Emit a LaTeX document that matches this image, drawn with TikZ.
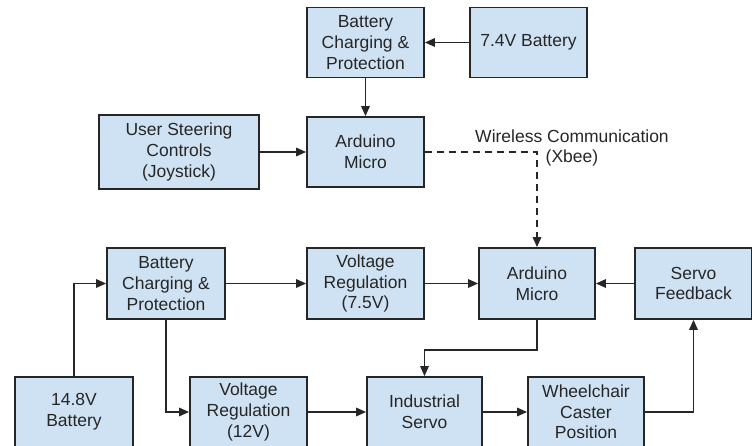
\documentclass[tikz,border=0pt]{standalone}
\usepackage{fontspec}
\setmainfont{Liberation Sans}
\usetikzlibrary{arrows.meta}

\definecolor{boxblue}{HTML}{CFE2F3}
\definecolor{edgegray}{HTML}{262626}

\tikzset{
  block/.style={draw=edgegray, fill=boxblue, line width=1.8pt, align=center,
    minimum width=117pt, minimum height=70pt, inner sep=2pt,
    font=\fontsize{17.5pt}{20.7pt}\selectfont, text=edgegray},
  link/.style={draw=edgegray, line width=1.6pt, -{Triangle[length=10pt,width=8.5pt]}},
}

\begin{document}
\begin{tikzpicture}[x=1pt,y=-1pt]
    \useasboundingbox (0,0) rectangle (752,446);
    \clip (0,0) rectangle (752,446);
    % remote side
    \node[block] (chgA) at (365.5,42.5) {Battery\\Charging \&\\Protection};
    \node[block] (batA) at (528.5,42.5) {7.4V Battery};
    \node[block, minimum width=160pt, minimum height=74pt] (user) at (179,152) {User Steering\\Controls\\(Joystick)};
    \node[block] (ardA) at (365.5,152) {Arduino\\Micro};
    % chair side
    \node[block, minimum width=118pt, minimum height=71pt] (chgB) at (166,283.5) {Battery\\Charging \&\\Protection};
    \node[block, minimum height=71pt] (regA) at (365.5,283.5) {Voltage\\Regulation\\(7.5V)};
    \node[block, minimum width=116pt, minimum height=71pt] (ardB) at (537,283.5) {Arduino\\Micro};
    \node[block, minimum height=71pt] (fback) at (693.5,283.5) {Servo\\Feedback};
    \node[block, minimum width=118pt] (batB) at (74,412) {14.8V\\Battery};
    \node[block] (regB) at (248.5,412) {Voltage\\Regulation\\(12V)};
    \node[block, minimum width=115pt] (servo) at (424.5,412) {Industrial\\Servo};
    \node[block, minimum width=116pt] (caster) at (586,412) {Wheelchair\\Caster\\Position};
    \node[align=center, text=edgegray, font=\fontsize{17.5pt}{20.7pt}\selectfont] (xbee) at (572,148) {Wireless Communication\\(Xbee)};

    \draw[link] (batA) -- (chgA);
    \draw[link] (chgA) -- (ardA);
    \draw[link] (user) -- (ardA);
    \draw[link, dashed, dash pattern=on 7pt off 5pt] (ardA.east) -| (ardB.north);
    \draw[link] (batB.north) |- (chgB.west);
    \draw[link] (chgB.south) |- (regB.west);
    \draw[link] (chgB) -- (regA);
    \draw[link] (regA) -- (ardB);
    \draw[link] (fback) -- (ardB);
    \draw[link] (regB) -- (servo);
    \draw[link] (servo) -- (caster);
    \draw[link] (caster.east) -| (fback.south);
    \draw[link] (ardB.south) -- ++(0,30) -| (servo.north);
\end{tikzpicture}
\end{document}
